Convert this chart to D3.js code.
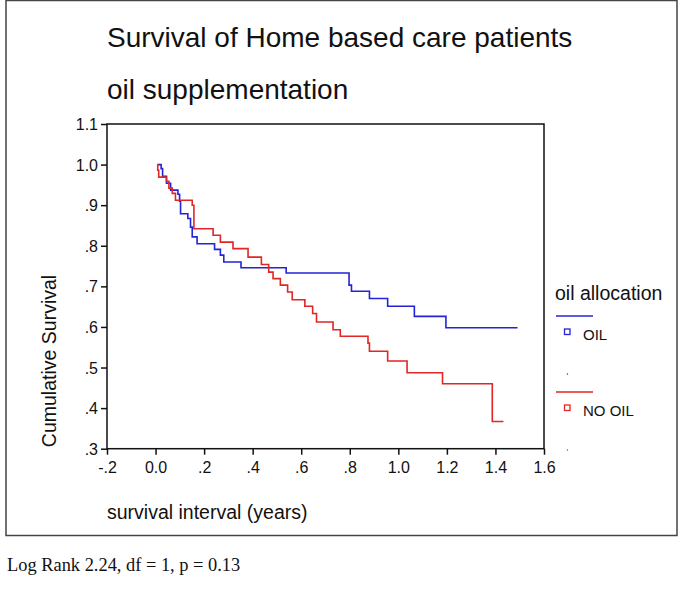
<!DOCTYPE html>
<html>
<head>
<meta charset="utf-8">
<script src="https://cdn.jsdelivr.net/npm/d3@7"></script>
<style>
  body { margin: 0; background: #fff; }
  text { font-family: "Liberation Sans", Arial, sans-serif; fill: #111; }
</style>
</head>
<body>
<div id="chart"></div>
<script>
// Kaplan-Meier steps (time in years, cumulative survival)
var oilTime = [0.009, 0.023, 0.029, 0.045, 0.062, 0.092, 0.099, 0.103, 0.133, 0.144, 0.151, 0.171,
               0.243, 0.267, 0.281, 0.352, 0.538, 0.797, 0.807, 0.881, 0.956, 1.066, 1.196, 1.491];
var oilSurv = [1.0, 0.990, 0.971, 0.954, 0.937, 0.927, 0.910, 0.879, 0.867, 0.846, 0.822, 0.805,
               0.791, 0.777, 0.760, 0.746, 0.733, 0.703, 0.688, 0.670, 0.651, 0.626, 0.598, 0.598];

var noOilTime = [0.008, 0.009, 0.013, 0.045, 0.055, 0.069, 0.082, 0.151, 0.158, 0.237, 0.267, 0.319,
                 0.381, 0.436, 0.466, 0.484, 0.514, 0.544, 0.563, 0.615, 0.647, 0.663, 0.731, 0.761,
                 0.875, 0.881, 0.956, 1.036, 1.182, 1.387, 1.433];
var noOilSurv = [1.0, 0.986, 0.969, 0.959, 0.942, 0.929, 0.912, 0.900, 0.842, 0.826, 0.809, 0.793,
                 0.772, 0.754, 0.735, 0.719, 0.703, 0.686, 0.667, 0.651, 0.633, 0.612, 0.593, 0.577,
                 0.560, 0.540, 0.516, 0.487, 0.460, 0.367, 0.367];

var groups = ["OIL", "NO OIL"];
var groupColors = ["#2323d8", "#e02626"];
var xTicks = [-0.2, 0, 0.2, 0.4, 0.6, 0.8, 1.0, 1.2, 1.4, 1.6];
var yTicks = [0.3, 0.4, 0.5, 0.6, 0.7, 0.8, 0.9, 1.0, 1.1];

var title1 = "Survival of Home based care patients";
var title2 = "oil supplementation";
var xName = "survival interval (years)";
var yName = "Cumulative Survival";
var legendTitle = "oil allocation";
var footNote = "Log Rank 2.24, df = 1, p = 0.13";

var W = 685, H = 589;
var plot = {left: 107, right: 544, top: 124, bottom: 448.7};

var svg = d3.select("#chart").append("svg")
  .attr("width", W).attr("height", H);

// outer frame
svg.append("rect")
  .attr("x", 6).attr("y", 0.5).attr("width", 671).attr("height", 535)
  .style("fill", "none").style("stroke", "#444").style("stroke-width", 1.5);

var x = d3.scaleLinear().domain([-0.2, 1.6]).range([plot.left, plot.right]);
var y = d3.scaleLinear().domain([0.3, 1.1]).range([plot.bottom, plot.top]);

// SPSS style numbers: no leading zero except 0.0, plain hyphen for minus
function fmt(v) {
  if (Math.abs(v) < 1e-9) return "0.0";
  var s = Math.abs(v).toFixed(1).replace(/^0\./, ".");
  return (v < 0 ? "-" : "") + s;
}

svg.append("text").attr("x", 107).attr("y", 47)
  .style("font-size", "28px").text(title1);
svg.append("text").attr("x", 107).attr("y", 99)
  .style("font-size", "28px").text(title2);

// plot frame
svg.append("rect")
  .attr("x", plot.left).attr("y", plot.top)
  .attr("width", plot.right - plot.left).attr("height", plot.bottom - plot.top)
  .style("fill", "none").style("stroke", "#111").style("stroke-width", 1.5);

var xAxis = svg.append("g").attr("transform", "translate(0," + plot.bottom + ")")
  .call(d3.axisBottom(x).tickValues(xTicks).tickFormat(fmt).tickSize(6).tickSizeOuter(0));
var yAxis = svg.append("g").attr("transform", "translate(" + plot.left + ",0)")
  .call(d3.axisLeft(y).tickValues(yTicks).tickFormat(fmt).tickSize(6).tickSizeOuter(0));

[xAxis, yAxis].forEach(function(a) {
  a.attr("font-size", 16).attr("font-family", "'Liberation Sans', Arial, sans-serif");
  a.select(".domain").remove();
  a.selectAll("line").style("stroke", "#111").style("stroke-width", 1.5);
  a.selectAll("text").style("fill", "#111");
});
xAxis.selectAll("text").attr("y", 10).attr("dy", "0.9em");
yAxis.selectAll("text").attr("x", -9).attr("dy", "0.35em");

var line = d3.line()
  .x(function(d) { return x(d.t); })
  .y(function(d) { return y(d.s); })
  .curve(d3.curveStepAfter);

var series = [
  oilTime.map(function(t, i) { return {t: t, s: oilSurv[i]}; }),
  noOilTime.map(function(t, i) { return {t: t, s: noOilSurv[i]}; })
];

series.forEach(function(pts, i) {
  svg.append("path").datum(pts)
    .attr("d", line)
    .style("fill", "none").style("stroke", groupColors[i]).style("stroke-width", 1.6);
});

// axis names
svg.append("text").attr("x", 107).attr("y", 519)
  .style("font-size", "19.5px").text(xName);
svg.append("text")
  .attr("transform", "translate(56,361) rotate(-90)")
  .attr("text-anchor", "middle")
  .style("font-size", "19.5px").text(yName);

// legend
var lg = svg.append("g");
lg.append("text").attr("x", 555).attr("y", 300).style("font-size", "19.5px").text(legendTitle);
var rowY = [316, 392];
groups.forEach(function(name, i) {
  var y0 = rowY[i];
  lg.append("line").attr("x1", 556).attr("x2", 593).attr("y1", y0).attr("y2", y0)
    .style("stroke", groupColors[i]).style("stroke-width", 1.6);
  lg.append("rect").attr("x", 564.5).attr("y", y0 + 13).attr("width", 5.5).attr("height", 5.5)
    .style("fill", "none").style("stroke", groupColors[i]).style("stroke-width", 1.3);
  lg.append("text").attr("x", 583).attr("y", y0 + 24).style("font-size", "15px").text(name);
  lg.append("circle").attr("cx", 567.5).attr("cy", y0 + 58).attr("r", 0.7)
    .style("fill", groupColors[i]);
});

svg.append("text").attr("x", 7).attr("y", 571)
  .style("font-family", "'Liberation Serif', 'Times New Roman', serif")
  .style("font-size", "18.4px").text(footNote);
</script>
</body>
</html>
